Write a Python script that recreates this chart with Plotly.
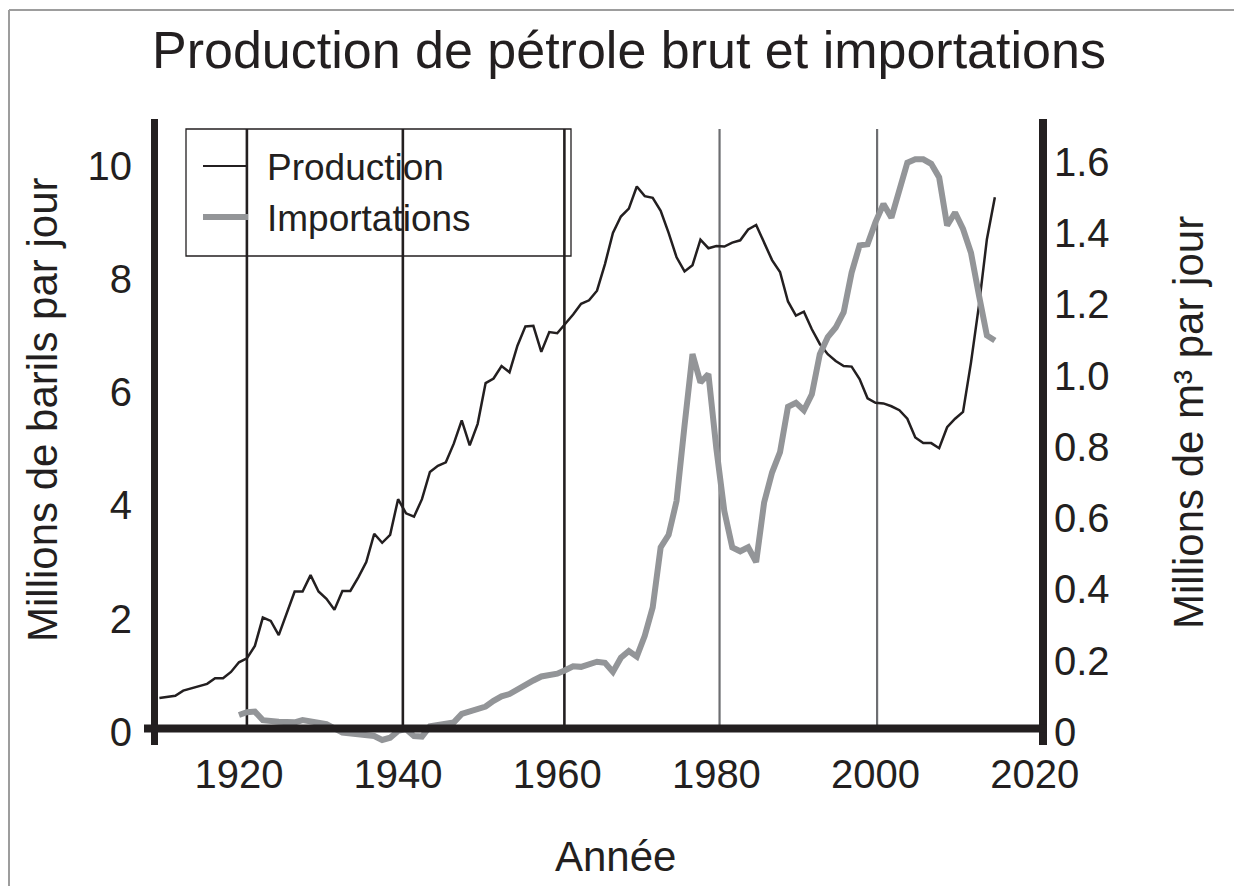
import plotly.graph_objects as go

# ---------------- data ----------------
prod_years = [1910, 1912, 1913, 1916, 1917, 1918, 1919, 1920, 1921, 1922, 1923, 1924, 1925,
              1927, 1928, 1929, 1930, 1931, 1932, 1933, 1934, 1935, 1936, 1937, 1938, 1939,
              1940, 1941, 1942, 1943, 1944, 1945, 1946, 1947, 1948, 1949, 1950, 1951, 1952,
              1953, 1954, 1955, 1956, 1957, 1958, 1959, 1960, 1961, 1962, 1963, 1964, 1965,
              1966, 1967, 1968, 1969, 1970, 1971, 1972, 1973, 1974, 1975, 1976, 1977, 1978,
              1979, 1980, 1981, 1982, 1983, 1984, 1985, 1986, 1987, 1988, 1989, 1990, 1991,
              1992, 1993, 1994, 1995, 1996, 1997, 1998, 1999, 2000, 2001, 2002, 2003, 2004,
              2005, 2006, 2007, 2008, 2009, 2010, 2011, 2012, 2013, 2014, 2015]
prod_values = [0.60, 0.64, 0.73, 0.85, 0.95, 0.95, 1.06, 1.23, 1.30, 1.52, 2.02, 1.96, 1.71,
               2.48, 2.48, 2.77, 2.48, 2.35, 2.16, 2.49, 2.49, 2.73, 3.00, 3.50, 3.34, 3.48,
               4.11, 3.86, 3.80, 4.11, 4.59, 4.70, 4.76, 5.09, 5.50, 5.06, 5.44, 6.16, 6.24,
               6.46, 6.35, 6.82, 7.16, 7.17, 6.71, 7.06, 7.04, 7.20, 7.37, 7.56, 7.62, 7.79,
               8.26, 8.81, 9.10, 9.24, 9.63, 9.46, 9.43, 9.20, 8.81, 8.38, 8.13, 8.24, 8.69,
               8.54, 8.58, 8.57, 8.64, 8.68, 8.87, 8.95, 8.64, 8.33, 8.12, 7.60, 7.35, 7.42,
               7.11, 6.85, 6.67, 6.55, 6.46, 6.45, 6.23, 5.89, 5.81, 5.80, 5.75, 5.68, 5.53,
               5.20, 5.10, 5.10, 5.01, 5.38, 5.53, 5.65, 6.52, 7.53, 8.70, 9.44]

imp_years = [1920, 1921, 1922, 1923, 1925, 1927, 1928, 1929, 1931, 1933, 1935, 1937, 1938,
             1939, 1940, 1941, 1942, 1943, 1944, 1946, 1947, 1948, 1950, 1951, 1952, 1953,
             1954, 1956, 1957, 1958, 1960, 1961, 1962, 1963, 1964, 1965, 1966, 1967, 1968,
             1969, 1970, 1971, 1972, 1973, 1974, 1975, 1976, 1977, 1978, 1979, 1980, 1981,
             1982, 1983, 1984, 1985, 1986, 1987, 1988, 1989, 1990, 1991, 1992, 1993, 1994,
             1995, 1996, 1997, 1998, 1999, 2000, 2001, 2002, 2003, 2004, 2005, 2006, 2007,
             2008, 2009, 2010, 2011, 2012, 2013, 2014, 2015]
imp_values = [0.30, 0.35, 0.36, 0.21, 0.18, 0.17, 0.21, 0.18, 0.14, -0.01, -0.04, -0.07, -0.14,
              -0.10, 0.02, 0.05, -0.07, -0.08, 0.10, 0.14, 0.17, 0.32, 0.41, 0.45, 0.55, 0.63,
              0.67, 0.85, 0.91, 0.98, 1.03, 1.09, 1.16, 1.15, 1.20, 1.24, 1.22, 1.06, 1.31,
              1.43, 1.33, 1.70, 2.20, 3.26, 3.48, 4.08, 5.41, 6.67, 6.17, 6.32, 5.00, 3.90,
              3.26, 3.19, 3.26, 3.00, 4.05, 4.58, 4.94, 5.74, 5.81, 5.68, 5.96, 6.67, 6.97,
              7.14, 7.41, 8.11, 8.59, 8.61, 9.00, 9.32, 9.08, 9.53, 10.05, 10.11, 10.11, 10.03,
              9.79, 8.94, 9.17, 8.88, 8.46, 7.71, 7.00, 6.91]

series_names = ["Production", "Importations"]

x_tick_years = [1920, 1940, 1960, 1980, 2000, 2020]
left_tick_vals = [0, 2, 4, 6, 8, 10]
right_tick_vals = [0, 0.2, 0.4, 0.6, 0.8, 1.0, 1.2, 1.4, 1.6]
right_tick_labels = ["0", "0.2", "0.4", "0.6", "0.8", "1.0", "1.2", "1.4", "1.6"]

vline_years = [1921.0, 1940.6, 1960.9, 1980.4, 2000.2]

title_text = "Production de pétrole brut et importations"
x_title = "Année"
y_left_title = "Millions de barils par jour"
y_right_title = "Millions de m³ par jour"

# ---------------- style ----------------
PAGE_OFF = 8                      # browser body margin
W, H = 1242 - PAGE_OFF, 886 - PAGE_OFF
ML, MR, MT, MB = 147, 199, 111, 142
PW, PH = W - ML - MR, H - MT - MB
DARK = "#231f20"
GREY_LINE = "#939598"
GREY_VLINE = "#6d6e71"
FONT = "Liberation Sans, Arial, Helvetica, sans-serif"
BBL_PER_M3 = 6.2898

x_range = [1909.45, 2021.05]
y_range = [-0.2118, 10.821]
y2_range = [y_range[0] / BBL_PER_M3, y_range[1] / BBL_PER_M3]


def px(xp):
    """screen x pixel -> paper x"""
    return (xp - PAGE_OFF - ML) / PW


def py(yp):
    """screen y pixel -> paper y"""
    return (H - MB - (yp - PAGE_OFF)) / PH


fig = go.Figure()
fig.add_trace(go.Scatter(x=prod_years, y=prod_values, mode="lines", name=series_names[0],
                         line=dict(color=DARK, width=2.5), showlegend=False, cliponaxis=False))
fig.add_trace(go.Scatter(x=imp_years, y=imp_values, mode="lines", name=series_names[1],
                         line=dict(color=GREY_LINE, width=6), showlegend=False, cliponaxis=False))
# empty trace so that the secondary (m³) axis is drawn
fig.add_trace(go.Scatter(x=[], y=[], yaxis="y2", showlegend=False, hoverinfo="skip"))

shapes = []
for i, yr in enumerate(vline_years):
    shapes.append(dict(type="line", xref="x", yref="paper", x0=yr, x1=yr,
                       y0=py(728.5), y1=py(129),
                       line=dict(color=DARK if i < 3 else GREY_VLINE, width=2.6 if i < 3 else 2.2),
                       layer="below"))
shapes.append(dict(type="line", xref="paper", yref="paper", x0=px(154.5), x1=px(154.5),
                   y0=py(119), y1=py(745), line=dict(color=DARK, width=7), layer="above"))
shapes.append(dict(type="line", xref="paper", yref="paper", x0=px(1043), x1=px(1043),
                   y0=py(119), y1=py(745), line=dict(color=DARK, width=8), layer="above"))
shapes.append(dict(type="line", xref="paper", yref="paper", x0=px(144), x1=px(1047),
                   y0=py(728.5), y1=py(728.5), line=dict(color=DARK, width=8), layer="above"))
# outer frame (top and left edges)
shapes.append(dict(type="line", xref="paper", yref="paper", x0=px(9), x1=px(1242),
                   y0=py(10), y1=py(10), line=dict(color="#9d9d9d", width=2), layer="above"))
shapes.append(dict(type="line", xref="paper", yref="paper", x0=px(9), x1=px(9),
                   y0=py(10), y1=py(886), line=dict(color="#9d9d9d", width=2), layer="above"))
# legend box
shapes.append(dict(type="rect", xref="paper", yref="paper", x0=px(186), x1=px(571),
                   y0=py(256), y1=py(129), line=dict(color=DARK, width=1.3),
                   fillcolor="rgba(0,0,0,0)", layer="above"))
shapes.append(dict(type="line", xref="paper", yref="paper", x0=px(203), x1=px(247),
                   y0=py(166), y1=py(166), line=dict(color=DARK, width=2), layer="above"))
shapes.append(dict(type="line", xref="paper", yref="paper", x0=px(203), x1=px(248),
                   y0=py(217), y1=py(217), line=dict(color=GREY_LINE, width=6), layer="above"))

annotations = [
    dict(text=title_text, x=px(629), y=py(50), xref="paper", yref="paper",
         showarrow=False, xanchor="center", yanchor="middle",
         font=dict(family=FONT, size=52, color=DARK)),
    dict(text=x_title, x=px(615), y=py(856), xref="paper", yref="paper",
         showarrow=False, xanchor="center", yanchor="middle",
         font=dict(family=FONT, size=42, color=DARK)),
    dict(text=y_left_title, x=px(42), y=py(410), xref="paper", yref="paper",
         showarrow=False, xanchor="center", yanchor="middle", textangle=-90,
         font=dict(family=FONT, size=42, color=DARK)),
    dict(text=y_right_title, x=px(1188), y=py(423), xref="paper", yref="paper",
         showarrow=False, xanchor="center", yanchor="middle", textangle=-90,
         font=dict(family=FONT, size=42, color=DARK)),
    dict(text=series_names[0], x=px(265), y=py(167), xref="paper", yref="paper",
         showarrow=False, xanchor="left", yanchor="middle",
         font=dict(family=FONT, size=37, color=DARK)),
    dict(text=series_names[1], x=px(265), y=py(218), xref="paper", yref="paper",
         showarrow=False, xanchor="left", yanchor="middle",
         font=dict(family=FONT, size=37, color=DARK)),
]

fig.update_layout(
    width=W, height=H, autosize=False,
    margin=dict(l=ML, r=MR, t=MT, b=MB, pad=0),
    paper_bgcolor="white", plot_bgcolor="white",
    showlegend=False,
    shapes=shapes, annotations=annotations,
    font=dict(family=FONT, color=DARK),
    xaxis=dict(range=x_range, tickmode="array", tickvals=x_tick_years,
               ticktext=[str(v) for v in x_tick_years], showgrid=False, zeroline=False,
               showline=False, ticks="", tickfont=dict(size=40, color=DARK),
               ticklabelstandoff=3),
    yaxis=dict(range=y_range, tickmode="array", tickvals=left_tick_vals,
               ticktext=[str(v) for v in left_tick_vals], showgrid=False, zeroline=False,
               showline=False, ticks="", tickfont=dict(size=40, color=DARK),
               ticklabelstandoff=22),
    yaxis2=dict(range=y2_range, overlaying="y", side="right", tickmode="array",
                tickvals=right_tick_vals, ticktext=right_tick_labels, showgrid=False,
                zeroline=False, showline=False, ticks="", tickfont=dict(size=40, color=DARK),
                ticklabelstandoff=10),
)

fig.write_html("out.html")
